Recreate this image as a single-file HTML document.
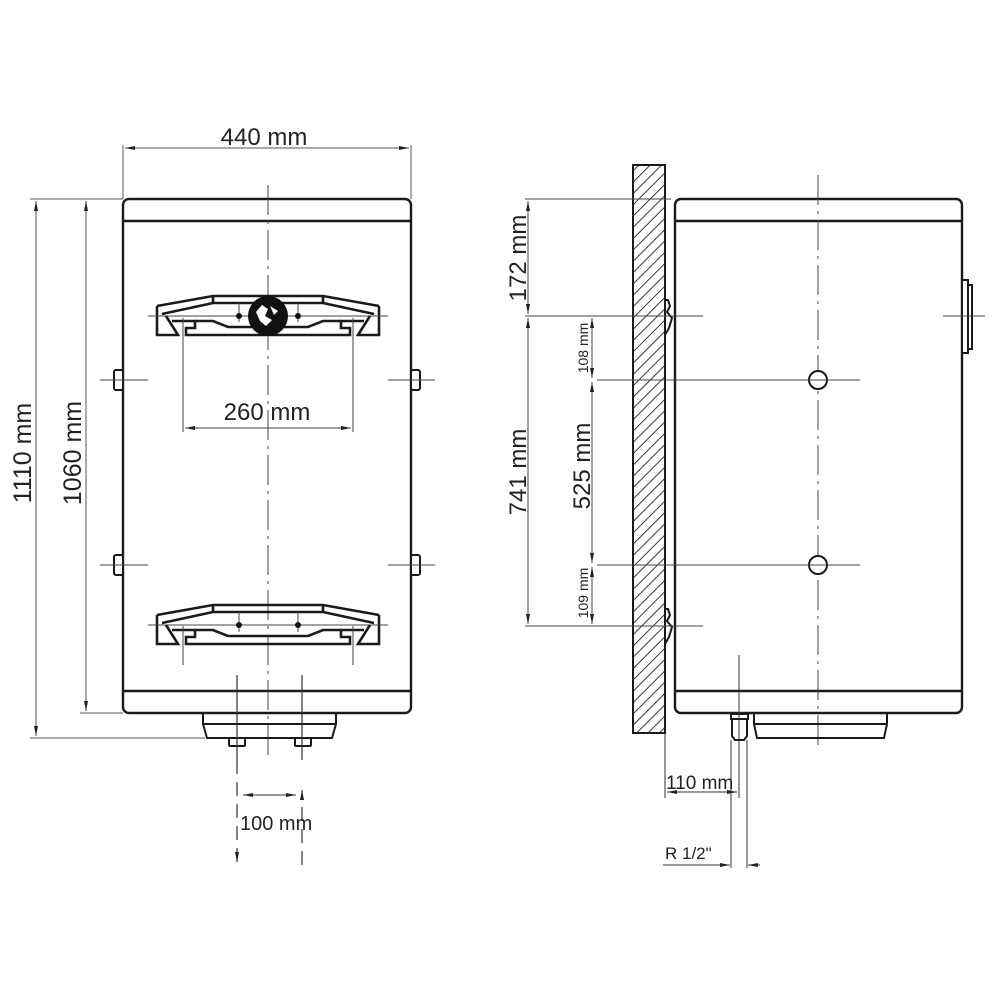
<!DOCTYPE html>
<html><head><meta charset="utf-8"><style>
html,body{margin:0;padding:0;background:#fff;}
svg{display:block;}
text{font-family:"Liberation Sans",sans-serif;fill:#222;}
</style></head><body>
<svg width="1000" height="1000" viewBox="0 0 1000 1000" xmlns="http://www.w3.org/2000/svg">
<defs>
<pattern id="h" width="8" height="8" patternUnits="userSpaceOnUse" patternTransform="rotate(45)">
<line x1="0" y1="0" x2="0" y2="8" stroke="#222" stroke-width="1.8"/>
</pattern>
<marker id="a" markerWidth="10" markerHeight="6" refX="10" refY="3" orient="auto-start-reverse" markerUnits="userSpaceOnUse">
<path d="M0,1 L10,3 L0,5 Z" fill="#222"/>
</marker>
<g id="br" fill="none" stroke="#1a1a1a" stroke-width="2.6" stroke-linejoin="miter">
<polyline points="157,306 213,296 323,296 379,306"/>
<polyline points="162,314 213,303 323,303 374,314"/>
<line x1="213" y1="296" x2="213" y2="303"/><line x1="323" y1="296" x2="323" y2="303"/>
<polyline points="157,306 157,335 178,335 166,316"/>
<polyline points="379,306 379,335 358,335 370,316"/>
<polyline points="172,321 195,321 195,328 186,328 186,335 350,335 350,328 341,328 341,321 364,321"/>
<polyline points="195,321 213,321 228,327 308,327 323,321 341,321"/>
</g>
</defs>

<!-- FRONT VIEW -->
<g stroke="#555" stroke-width="1" fill="none">
<line x1="123" y1="145" x2="123" y2="199"/><line x1="411" y1="145" x2="411" y2="199"/>
<line x1="125" y1="148" x2="409" y2="148" marker-start="url(#a)" marker-end="url(#a)"/>
<line x1="30" y1="199" x2="123" y2="199"/>
<line x1="80" y1="713" x2="123" y2="713"/>
<line x1="30" y1="738" x2="205" y2="738"/>
<line x1="36" y1="201" x2="36" y2="736" marker-start="url(#a)" marker-end="url(#a)"/>
<line x1="86" y1="201" x2="86" y2="711" marker-start="url(#a)" marker-end="url(#a)"/>
</g>
<text x="264" y="145" font-size="24" text-anchor="middle">440 mm</text>
<text transform="translate(31,453) rotate(-90)" font-size="25" text-anchor="middle">1110 mm</text>
<text transform="translate(81,453) rotate(-90)" font-size="25" text-anchor="middle">1060 mm</text>

<rect x="123" y="199" width="288" height="514" rx="6" fill="none" stroke="#1a1a1a" stroke-width="2.4"/>
<line x1="123" y1="221" x2="411" y2="221" stroke="#1a1a1a" stroke-width="2.4"/>
<line x1="123" y1="691" x2="411" y2="691" stroke="#1a1a1a" stroke-width="2.4"/>
<line x1="268" y1="185" x2="268" y2="755" stroke="#444" stroke-width="1" stroke-dasharray="30,6,3,6"/>

<g fill="#fff" stroke="#1a1a1a" stroke-width="2">
<rect x="114" y="370" width="9" height="20" rx="2"/><rect x="411" y="370" width="9" height="20" rx="2"/>
<rect x="114" y="555" width="9" height="20" rx="2"/><rect x="411" y="555" width="9" height="20" rx="2"/>
</g>
<g stroke="#444" stroke-width="1">
<line x1="100" y1="380" x2="148" y2="380"/><line x1="388" y1="380" x2="435" y2="380"/>
<line x1="100" y1="565" x2="148" y2="565"/><line x1="388" y1="565" x2="435" y2="565"/>
</g>

<use href="#br"/>
<use href="#br" transform="translate(0,309)"/>
<g stroke="#444" stroke-width="1">
<line x1="148" y1="316" x2="388" y2="316"/><line x1="148" y1="625" x2="388" y2="625"/>
<line x1="183" y1="318" x2="183" y2="432"/><line x1="353" y1="318" x2="353" y2="432"/>
<line x1="183" y1="626" x2="183" y2="665"/><line x1="353" y1="626" x2="353" y2="665"/>
<line x1="239" y1="303" x2="239" y2="322"/><line x1="298" y1="303" x2="298" y2="322"/>
<line x1="239" y1="612" x2="239" y2="632"/><line x1="298" y1="612" x2="298" y2="632"/>
<line x1="185" y1="428" x2="351" y2="428" marker-start="url(#a)" marker-end="url(#a)"/>
</g>
<circle cx="239" cy="316" r="3" fill="#111"/><circle cx="298" cy="316" r="3" fill="#111"/>
<circle cx="239" cy="625" r="3" fill="#111"/><circle cx="298" cy="625" r="3" fill="#111"/>
<circle cx="268" cy="316" r="20" fill="#111"/>
<path d="M256,312 L262,305 L268,309 L265,316 L272,320 L266,326 L260,321 Z M270,306 L278,311 L274,315 Z" fill="#fff"/>
<text x="267" y="420" font-size="24" text-anchor="middle">260 mm</text>

<g fill="none" stroke="#1a1a1a" stroke-width="2">
<polyline points="203,713 203,724 207,738 332,738 336,724 336,713"/>
<line x1="203" y1="724" x2="336" y2="724"/>
<rect x="229" y="738" width="16" height="8" rx="1"/>
<rect x="295" y="738" width="16" height="8" rx="1"/>
</g>
<g stroke="#333" stroke-width="1.2" fill="none">
<line x1="237" y1="675" x2="237" y2="760"/><line x1="302" y1="675" x2="302" y2="760"/>
<line x1="237" y1="760" x2="237" y2="862" stroke-dasharray="14,8" marker-end="url(#a)"/>
<line x1="302" y1="865" x2="302" y2="790" stroke-dasharray="14,8" marker-end="url(#a)"/>
<line x1="243" y1="795" x2="296" y2="795" stroke-width="1" marker-start="url(#a)" marker-end="url(#a)"/>
</g>
<text x="240" y="830" font-size="20">100 mm</text>

<!-- SIDE VIEW -->
<rect x="633" y="165" width="32" height="568" fill="url(#h)" stroke="#1a1a1a" stroke-width="2"/>
<rect x="675" y="199" width="287" height="514" rx="6" fill="none" stroke="#1a1a1a" stroke-width="2.4"/>
<line x1="675" y1="221" x2="962" y2="221" stroke="#1a1a1a" stroke-width="2.4"/>
<line x1="675" y1="691" x2="962" y2="691" stroke="#1a1a1a" stroke-width="2.4"/>
<line x1="818" y1="175" x2="818" y2="748" stroke="#444" stroke-width="1" stroke-dasharray="30,6,3,6"/>
<g fill="#fff" stroke="#1a1a1a" stroke-width="2">
<rect x="962" y="280" width="6" height="73"/><rect x="968" y="285" width="4" height="64"/>
<circle cx="818" cy="380" r="9"/><circle cx="818" cy="565" r="9"/>
<path d="M665,300 L668,300 L670,306 L667,312 L672,318 L669,328 L665,335" fill="none"/>
<path d="M665,609 L668,609 L670,615 L667,621 L672,627 L669,637 L665,644" fill="none"/>
</g>
<g stroke="#444" stroke-width="1" fill="none">
<line x1="943" y1="316" x2="985" y2="316"/>
<line x1="525" y1="199" x2="671" y2="199"/>
<line x1="525" y1="316" x2="703" y2="316"/>
<line x1="525" y1="626" x2="703" y2="626"/>
<line x1="597" y1="380" x2="860" y2="380"/>
<line x1="597" y1="565" x2="860" y2="565"/>
<line x1="528" y1="201" x2="528" y2="314" marker-start="url(#a)" marker-end="url(#a)"/>
<line x1="528" y1="318" x2="528" y2="624" marker-start="url(#a)" marker-end="url(#a)"/>
<line x1="592" y1="318" x2="592" y2="378" marker-start="url(#a)" marker-end="url(#a)"/>
<line x1="592" y1="382" x2="592" y2="563" marker-start="url(#a)" marker-end="url(#a)"/>
<line x1="592" y1="567" x2="592" y2="624" marker-start="url(#a)" marker-end="url(#a)"/>
</g>
<text transform="translate(526,258) rotate(-90)" font-size="24" text-anchor="middle">172 mm</text>
<text transform="translate(526,472) rotate(-90)" font-size="24" text-anchor="middle">741 mm</text>
<text transform="translate(590,466) rotate(-90)" font-size="24" text-anchor="middle">525 mm</text>
<text transform="translate(588,348) rotate(-90)" font-size="14" text-anchor="middle">108 mm</text>
<text transform="translate(588,593) rotate(-90)" font-size="14" text-anchor="middle">109 mm</text>

<g fill="none" stroke="#1a1a1a" stroke-width="2">
<polyline points="754,713 754,724 757,738 884,738 887,724 887,713"/>
<line x1="754" y1="724" x2="887" y2="724"/>
<rect x="731" y="714" width="17" height="5"/>
<path d="M732,719 L747,719 L747,736 L744,740 L735,740 L732,736 Z"/>
</g>
<g stroke="#333" stroke-width="1" fill="none">
<line x1="739" y1="655" x2="739" y2="798"/>
<line x1="665" y1="733" x2="665" y2="798"/>
<line x1="667" y1="792" x2="737" y2="792" marker-start="url(#a)" marker-end="url(#a)"/>
<line x1="731" y1="740" x2="731" y2="868"/>
<line x1="747" y1="740" x2="747" y2="868"/>
<line x1="663" y1="865" x2="730" y2="865" marker-end="url(#a)"/>
<line x1="760" y1="865" x2="748" y2="865" marker-end="url(#a)"/>
</g>
<text x="666" y="789" font-size="19">110 mm</text>
<text x="665" y="859" font-size="17">R 1/2"</text>
</svg>
</body></html>
